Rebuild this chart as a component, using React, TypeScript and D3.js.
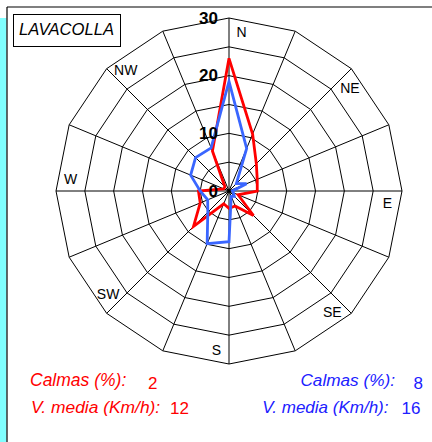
import React from "react";
import * as d3 from "d3";

const directions = ["N", "NNE", "NE", "ENE", "E", "ESE", "SE", "SSE", "S", "SSW", "SW", "WSW", "W", "WNW", "NW", "NNW"];
const labelDirs = ["N", "NE", "E", "SE", "S", "SW", "W", "NW"];
const redValues = [23, 10.7, 6.7, 5.3, 4.9, 1.7, 6.0, 2.8, 3.0, 2.4, 8.7, 5.4, 5.3, 1.0, 1.0, 7.5];
const blueValues = [19, 8.0, 1.8, 3.3, 0.6, 0.8, 1.3, 1.0, 8.8, 9.9, 5.2, 4.0, 5.0, 7.2, 8.2, 8.1];
const ringValues = [5, 10, 15, 20, 25, 30];
const tickLabels = [0, 10, 20, 30];
const title = "LAVACOLLA";
const redStats = { calmas: "2", media: "12" };
const blueStats = { calmas: "8", media: "16" };

const W = 432;
const H = 442;
const cx = 229;
const cy = 191;
const FONT = "'Liberation Sans', Arial, Helvetica, sans-serif";

export default function App() {
  const r = d3.scaleLinear().domain([0, 30]).range([0, 173]);
  const angle = d3
    .scalePoint<string>()
    .domain(directions)
    .range([0, 2 * Math.PI - (2 * Math.PI) / directions.length]);

  const pt = (dir: string, v: number): [number, number] => {
    const a = angle(dir)!;
    return [cx + r(v) * Math.sin(a), cy - r(v) * Math.cos(a)];
  };

  const ringPath = (v: number) =>
    d3.line()(directions.map((d) => pt(d, v)))! + "Z";

  const radial = d3
    .lineRadial<number>()
    .angle((_, i) => angle(directions[i])!)
    .radius((v) => r(v))
    .curve(d3.curveLinearClosed);

  return (
    <svg
      width={W}
      height={H}
      style={{ position: "absolute", left: 0, top: 0, background: "#fff" }}
    >
      <rect x={0} y={18} width={6.5} height={H - 18} fill="#80ffff" />
      <line x1={7} y1={7} x2={W} y2={7} stroke="#000" strokeWidth={1.2} />
      <line x1={7} y1={7} x2={7} y2={H} stroke="#000" strokeWidth={1.2} />

      <g>
        {ringValues.map((v) => (
          <path key={v} d={ringPath(v)} fill="none" stroke="#000" strokeWidth={1} />
        ))}
        {directions.map((d) => {
          const [x, y] = pt(d, 30);
          return <line key={d} x1={cx} y1={cy} x2={x} y2={y} stroke="#000" strokeWidth={1} />;
        })}
      </g>

      <g transform={`translate(${cx},${cy})`}>
        <path d={radial(redValues)!} fill="none" stroke="#ff0000" strokeWidth={2.8} strokeLinejoin="miter" />
        <path d={radial(blueValues)!} fill="none" stroke="#3a66ff" strokeWidth={2.8} strokeLinejoin="miter" />
      </g>

      {tickLabels.map((v) => (
        <text
          key={v}
          x={218}
          y={cy - r(v)}
          textAnchor="end"
          dominantBaseline="central"
          fontFamily={FONT}
          fontWeight="bold"
          fontSize={17}
          fill="#000"
        >
          {v}
        </text>
      ))}

      {labelDirs.map((d) => {
        const a = angle(d)! + (4.5 * Math.PI) / 180;
        const rr = 159;
        return (
          <text
            key={d}
            x={cx + rr * Math.sin(a)}
            y={cy - rr * Math.cos(a)}
            textAnchor="middle"
            dominantBaseline="central"
            fontFamily={FONT}
            fontSize={14}
            fill="#000"
          >
            {d}
          </text>
        );
      })}

      <rect x={13.5} y={14.5} width={107} height={32} fill="#fff" stroke="#000" strokeWidth={1} />
      <text x={19} y={34.5} fontFamily={FONT} fontStyle="italic" fontSize={16.6} fill="#000">
        {title}
      </text>

      <g fontFamily={FONT} fill="#ff0000">
        <text x={30} y={386} fontStyle="italic" fontSize={17.5}>Calmas (%):</text>
        <text x={148} y={389} fontSize={17}>{redStats.calmas}</text>
        <text x={31} y={412.5} fontStyle="italic" fontSize={17.4}>V. media (Km/h):</text>
        <text x={170} y={413.5} fontSize={17}>{redStats.media}</text>
      </g>
      <g fontFamily={FONT} fill="#2020ff">
        <text x={395} y={386} textAnchor="end" fontStyle="italic" fontSize={17.2}>Calmas (%):</text>
        <text x={413.5} y={389} fontSize={17}>{blueStats.calmas}</text>
        <text x={388.5} y={412.7} textAnchor="end" fontStyle="italic" fontSize={17}>V. media (Km/h):</text>
        <text x={401.5} y={413.5} fontSize={17}>{blueStats.media}</text>
      </g>
    </svg>
  );
}
